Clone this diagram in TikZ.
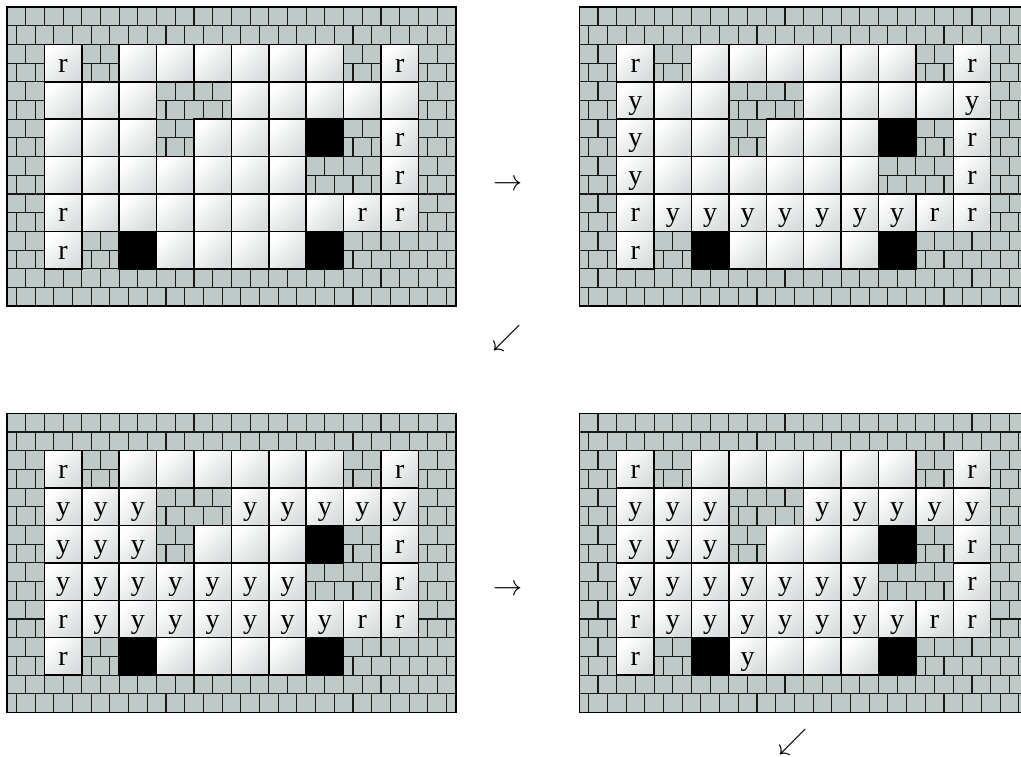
\documentclass[tikz,border=0pt]{standalone}
\usepackage{fontspec}
\setmainfont{Liberation Serif}
\definecolor{wallc}{RGB}{191,201,199}
\definecolor{cellgray}{RGB}{216,220,220}
\tikzset{
  brick/.style={line width=1.1pt, draw=black!90},
  cellline/.style={line width=1.5pt, draw=black},
  whitecell/.style={top color=white, bottom color=cellgray, shading angle=45},
  lett/.style={anchor=base, inner sep=0pt, font=\fontsize{28}{30}\selectfont},
  arr/.style={inner sep=0pt, font=\fontsize{24.88}{30}\selectfont},
}
% pass a: fills and bricks
\newcommand\gcaW[1]{\fill[wallc] (0,0) rectangle (37.4,37.4);
  \draw[brick] (0,18.7) -- (0,0) -- (37.4,0) -- (37.4,18.7) -- cycle
    (18.7,0) -- (18.7,18.7) (9.35,18.7) -- (9.35,37.4)
    (28.05,18.7) -- (28.05,37.4) (0,37.4) -- (37.4,37.4);}
\newcommand\gcae[1]{\shade[whitecell] (0,0) rectangle (37.4,37.4);}
\newcommand\gcar[1]{\gcae{#1}}
\newcommand\gcay[1]{\gcae{#1}}
\newcommand\gcaB[1]{\fill[black] (0,0) rectangle (37.4,37.4);}
% pass b: outlines and letters
\newcommand\gcbW[1]{}
\newcommand\gcbe[1]{\draw[cellline] (0,0) rectangle (37.4,37.4);}
\newcommand\gcbB[1]{\gcbe{#1}}
\newcommand\gcbr[1]{\gcbe{#1}\node[lett] (#1) at (18.7,27.7) {r};}
\newcommand\gcby[1]{\gcbe{#1}\node[lett] (#1) at (18.7,27.7) {y};}
\newcommand\drawgrid[4]{%
  \begin{scope}[shift={(#2,#3)}]
    \foreach \pp in {a,b}{
      \foreach \rw [count=\jj from 0] in {#4}{
        \foreach \cc [count=\ii from 0] in \rw {
          \begin{scope}[shift={(\ii*37.4,\jj*37.4)}]
            \csname gc\pp\cc\endcsname{#1-\ii-\jj}
          \end{scope}
        }
      }
    }
    \draw[cellline] (0,0) rectangle (448.8,299.2);
  \end{scope}}
\begin{document}
\begin{tikzpicture}[x=1pt,y=-1pt]
\useasboundingbox (0,0) rectangle (1021,756);
\clip (0,0) rectangle (1021,756);
\fill[white] (0,0) rectangle (1021,756);
\drawgrid{g1}{7}{7}{
 {W,W,W,W,W,W,W,W,W,W,W,W},
 {W,r,W,e,e,e,e,e,e,W,r,W},
 {W,e,e,e,W,W,e,e,e,e,e,W},
 {W,e,e,e,W,e,e,e,B,W,r,W},
 {W,e,e,e,e,e,e,e,W,W,r,W},
 {W,r,e,e,e,e,e,e,e,r,r,W},
 {W,r,W,B,e,e,e,e,B,W,W,W},
 {W,W,W,W,W,W,W,W,W,W,W,W}}
\drawgrid{g2}{579.3}{7}{
 {W,W,W,W,W,W,W,W,W,W,W,W},
 {W,r,W,e,e,e,e,e,e,W,r,W},
 {W,y,e,e,W,W,e,e,e,e,y,W},
 {W,y,e,e,W,e,e,e,B,W,r,W},
 {W,y,e,e,e,e,e,e,W,W,r,W},
 {W,r,y,y,y,y,y,y,y,r,r,W},
 {W,r,W,B,e,e,e,e,B,W,W,W},
 {W,W,W,W,W,W,W,W,W,W,W,W}}
\drawgrid{g3}{7}{413.3}{
 {W,W,W,W,W,W,W,W,W,W,W,W},
 {W,r,W,e,e,e,e,e,e,W,r,W},
 {W,y,y,y,W,W,y,y,y,y,y,W},
 {W,y,y,y,W,e,e,e,B,W,r,W},
 {W,y,y,y,y,y,y,y,W,W,r,W},
 {W,r,y,y,y,y,y,y,y,r,r,W},
 {W,r,W,B,e,e,e,e,B,W,W,W},
 {W,W,W,W,W,W,W,W,W,W,W,W}}
\drawgrid{g4}{579.3}{413.3}{
 {W,W,W,W,W,W,W,W,W,W,W,W},
 {W,r,W,e,e,e,e,e,e,W,r,W},
 {W,y,y,y,W,W,y,y,y,y,y,W},
 {W,y,y,y,W,e,e,e,B,W,r,W},
 {W,y,y,y,y,y,y,y,W,W,r,W},
 {W,r,y,y,y,y,y,y,y,r,r,W},
 {W,r,W,B,y,e,e,e,B,W,W,W},
 {W,W,W,W,W,W,W,W,W,W,W,W}}
\node[arr] (arrA) at (508,185) {\scalebox{1.17}{$\rightarrow$}};
\node[arr] (arrB) at (507,338) {\scalebox{1.17}{$\swarrow$}};
\node[arr] (arrC) at (508,590) {\scalebox{1.17}{$\rightarrow$}};
\node[arr] (arrD) at (793,742) {\scalebox{1.17}{$\swarrow$}};
\end{tikzpicture}
\end{document}
